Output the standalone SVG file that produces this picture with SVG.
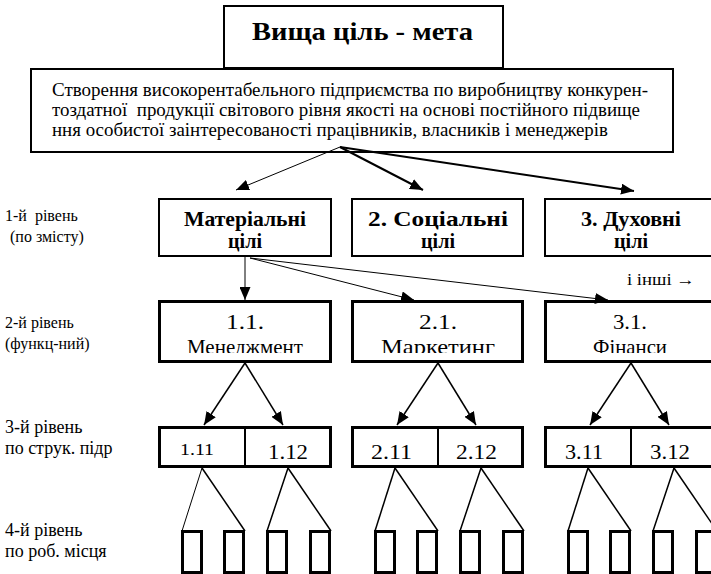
<svg xmlns="http://www.w3.org/2000/svg" width="711" height="574" viewBox="0 0 711 574">
<style>
.box{fill:#fff;stroke:#000;stroke-width:2}
.bx3{fill:#fff;stroke:#000;stroke-width:3}
.t{font-family:"Liberation Serif","Times New Roman",serif;fill:#000}
.b{font-weight:bold}
.ln{stroke:#000;fill:none}
</style>
<defs>
<marker id="ah" markerUnits="userSpaceOnUse" markerWidth="13" markerHeight="11" refX="13" refY="5.5" orient="auto" viewBox="0 0 13 11">
<path d="M0,0 L13,5.5 L0,11 z" fill="#000"/>
</marker>
<clipPath id="c2"><rect x="0" y="290" width="711" height="63"/></clipPath>
</defs>
<rect width="711" height="574" fill="#fff"/>

<g id="top">
<rect class="box" x="224" y="6" width="279" height="62"/>
<text class="t b" x="252" y="40" font-size="26" textLength="221" lengthAdjust="spacingAndGlyphs">Вища ціль - мета</text>
</g>
<g id="goal">
<rect class="box" x="31" y="69" width="642" height="83"/>
<text class="t" font-size="18" x="52" y="96" textLength="596" lengthAdjust="spacingAndGlyphs">Створення високорентабельного підприємства по виробництву конкурен-</text>
<text class="t" font-size="18" x="52" y="116" textLength="588" lengthAdjust="spacingAndGlyphs" xml:space="preserve">тоздатної  продукції світового рівня якості на основі постійного підвище</text>
<text class="t" font-size="18" x="52" y="136" textLength="556" lengthAdjust="spacingAndGlyphs">ння особистої заінтересованості працівників, власників і менеджерів</text>
</g>

<g id="labels" class="t">
<text x="5" y="221" font-size="16" xml:space="preserve">1-й  рівень</text>
<text x="10" y="242" font-size="16">(по змісту)</text>
<text x="5" y="328" font-size="16">2-й рівень</text>
<text x="5" y="349" font-size="16">(функц-ний)</text>
<text x="5" y="433" font-size="18">3-й рівень</text>
<text x="5" y="454" font-size="18">по струк. підр</text>
<text x="5" y="536" font-size="18">4-й рівень</text>
<text x="5" y="557" font-size="18">по роб. місця</text>
<text x="627" y="285" font-size="16" textLength="68" lengthAdjust="spacingAndGlyphs">і інші →</text>
</g>

<g id="l1-1"><rect class="box" x="159" y="199" width="172" height="57"/>
<text class="t b" font-size="21" x="184" y="226" textLength="122" lengthAdjust="spacingAndGlyphs">Матеріальні</text>
<text class="t b" font-size="21" x="228" y="248" textLength="34" lengthAdjust="spacingAndGlyphs">цілі</text></g>
<g id="l1-2"><rect class="box" x="352" y="199" width="171" height="57"/>
<text class="t b" font-size="21" x="368" y="226" textLength="140" lengthAdjust="spacingAndGlyphs">2. Соціальні</text>
<text class="t b" font-size="21" x="421" y="248" textLength="34" lengthAdjust="spacingAndGlyphs">цілі</text></g>
<g id="l1-3"><rect class="box" x="545" y="199" width="172" height="57"/>
<text class="t b" font-size="21" x="581" y="226" textLength="100" lengthAdjust="spacingAndGlyphs">3. Духовні</text>
<text class="t b" font-size="21" x="614" y="248" textLength="34" lengthAdjust="spacingAndGlyphs">цілі</text></g>

<g id="l2-1"><rect class="bx3" x="159.5" y="301.5" width="171" height="60"/>
<text class="t" font-size="20" x="226" y="329" textLength="38" lengthAdjust="spacingAndGlyphs">1.1.</text>
<text class="t" font-size="21" x="187" y="354" textLength="116" lengthAdjust="spacingAndGlyphs" clip-path="url(#c2)">Менеджмент</text></g>
<g id="l2-2"><rect class="bx3" x="352.5" y="301.5" width="170" height="60"/>
<text class="t" font-size="20" x="419" y="329" textLength="38" lengthAdjust="spacingAndGlyphs">2.1.</text>
<text class="t" font-size="21" x="381" y="354" textLength="114" lengthAdjust="spacingAndGlyphs" clip-path="url(#c2)">Маркетинг</text></g>
<g id="l2-3"><rect class="bx3" x="545.5" y="301.5" width="171" height="60"/>
<text class="t" font-size="20" x="613" y="329" textLength="34" lengthAdjust="spacingAndGlyphs">3.1.</text>
<text class="t" font-size="21" x="593" y="354" textLength="74" lengthAdjust="spacingAndGlyphs" clip-path="url(#c2)">Фінанси</text></g>

<g id="l3-1"><rect class="bx3" x="159.5" y="427.5" width="171" height="39"/>
<line class="ln" stroke-width="2" x1="245" y1="427" x2="245" y2="467"/>
<text class="t" font-size="17" x="180" y="455" textLength="34" lengthAdjust="spacingAndGlyphs">1.11</text>
<text class="t" font-size="20" x="268" y="459" textLength="40" lengthAdjust="spacingAndGlyphs">1.12</text></g>
<g id="l3-2"><rect class="bx3" x="352.5" y="427.5" width="170" height="39"/>
<line class="ln" stroke-width="2" x1="438" y1="427" x2="438" y2="467"/>
<text class="t" font-size="20" x="371" y="459" textLength="41" lengthAdjust="spacingAndGlyphs">2.11</text>
<text class="t" font-size="20" x="456" y="459" textLength="41" lengthAdjust="spacingAndGlyphs">2.12</text></g>
<g id="l3-3"><rect class="bx3" x="545.5" y="427.5" width="171" height="39"/>
<line class="ln" stroke-width="2" x1="631" y1="427" x2="631" y2="467"/>
<text class="t" font-size="20" x="565" y="459" textLength="38" lengthAdjust="spacingAndGlyphs">3.11</text>
<text class="t" font-size="20" x="650" y="459" textLength="40" lengthAdjust="spacingAndGlyphs">3.12</text></g>

<g id="l4">
<rect class="bx3" x="182.5" y="531.5" width="19" height="41"/>
<rect class="bx3" x="224.5" y="531.5" width="19" height="41"/>
<rect class="bx3" x="267.5" y="531.5" width="19" height="41"/>
<rect class="bx3" x="310.5" y="531.5" width="19" height="41"/>
<rect class="bx3" x="375.5" y="531.5" width="19" height="41"/>
<rect class="bx3" x="417.5" y="531.5" width="19" height="41"/>
<rect class="bx3" x="460.5" y="531.5" width="19" height="41"/>
<rect class="bx3" x="503.5" y="531.5" width="19" height="41"/>
<rect class="bx3" x="568.5" y="531.5" width="19" height="41"/>
<rect class="bx3" x="610.5" y="531.5" width="19" height="41"/>
<rect class="bx3" x="653.5" y="531.5" width="19" height="41"/>
<rect class="bx3" x="696.5" y="531.5" width="19" height="41"/>
</g>

<g id="connectors">
<line class="ln" stroke-width="1" x1="340" y1="147" x2="236" y2="190" marker-end="url(#ah)"/>
<line class="ln" stroke-width="2" x1="340" y1="147" x2="423" y2="190" marker-end="url(#ah)"/>
<line class="ln" stroke-width="2" x1="340" y1="147" x2="634" y2="191" marker-end="url(#ah)"/>
<line class="ln" stroke-width="1" x1="245" y1="257" x2="245" y2="300" marker-end="url(#ah)"/>
<line class="ln" stroke-width="1" x1="250" y1="258" x2="414" y2="300" marker-end="url(#ah)"/>
<line class="ln" stroke-width="1" x1="250" y1="258" x2="608" y2="300" marker-end="url(#ah)"/>

<line class="ln" stroke-width="1.5" x1="245" y1="363" x2="204" y2="425" marker-end="url(#ah)"/>
<line class="ln" stroke-width="1.5" x1="245" y1="363" x2="283" y2="425" marker-end="url(#ah)"/>
<line class="ln" stroke-width="1.5" x1="438" y1="363" x2="397" y2="425" marker-end="url(#ah)"/>
<line class="ln" stroke-width="1.5" x1="438" y1="363" x2="476" y2="425" marker-end="url(#ah)"/>
<line class="ln" stroke-width="1.5" x1="631" y1="363" x2="590" y2="425" marker-end="url(#ah)"/>
<line class="ln" stroke-width="1.5" x1="631" y1="363" x2="669" y2="425" marker-end="url(#ah)"/>

<line class="ln" stroke-width="1" x1="202" y1="468" x2="182" y2="531"/>
<line class="ln" stroke-width="1.5" x1="202" y1="468" x2="245" y2="531"/>
<line class="ln" stroke-width="1.5" x1="288" y1="468" x2="267" y2="531"/>
<line class="ln" stroke-width="1.5" x1="288" y1="468" x2="331" y2="531"/>
<line class="ln" stroke-width="1.5" x1="395" y1="468" x2="375" y2="531"/>
<line class="ln" stroke-width="1.5" x1="395" y1="468" x2="438" y2="531"/>
<line class="ln" stroke-width="1.5" x1="481" y1="468" x2="460" y2="531"/>
<line class="ln" stroke-width="1.5" x1="481" y1="468" x2="524" y2="531"/>
<line class="ln" stroke-width="1.5" x1="588" y1="468" x2="568" y2="531"/>
<line class="ln" stroke-width="1.5" x1="588" y1="468" x2="631" y2="531"/>
<line class="ln" stroke-width="1.5" x1="674" y1="468" x2="653" y2="531"/>
<line class="ln" stroke-width="1.5" x1="674" y1="468" x2="717" y2="531"/>
</g>
</svg>
